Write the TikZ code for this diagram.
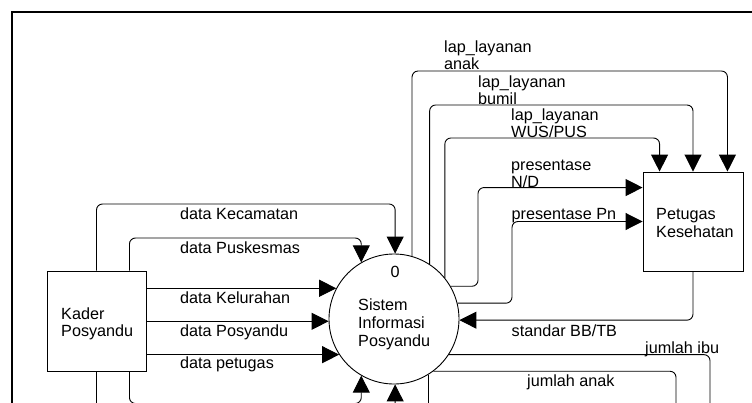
\documentclass[tikz,border=0pt]{standalone}
\usepackage{fontspec}
\setmainfont{Liberation Sans}
\usetikzlibrary{arrows.meta}
\begin{document}
\begin{tikzpicture}[x=1pt,y=-1pt,
  txt/.style={font=\fontsize{16.2}{17}\selectfont, inner sep=0pt, align=left},
  flow/.style={draw, line width=0.9pt, rounded corners=6pt,
    -{Triangle[length=17pt,width=17pt]}},
  wire/.style={draw, line width=0.9pt, rounded corners=6pt},
  entity/.style={draw, line width=0.9pt, rectangle, inner sep=0pt},
  process/.style={draw, line width=0.9pt, circle, inner sep=0pt, minimum size=130pt}]

\useasboundingbox (0,0) rectangle (752,402);
\clip (0,0) rectangle (752,402);

% outer frame
\draw[line width=1.6pt] (11.7,440) |- (800,11.7);

% external entities and the process
\node[entity, minimum width=99pt, minimum height=100pt] (kader) at (96.5,321) {};
\node[txt, anchor=north west] (kaderLbl) at (61,308) {Kader\\Posyandu};
\node[entity, minimum width=100pt, minimum height=99pt] (pet) at (693,221.5) {};
\node[txt, anchor=north west, font=\fontsize{16.2}{18}\selectfont] (petLbl) at (656,208) {Petugas\\Kesehatan};
\node[process] (sys) at (394,319) {};
\node[txt, anchor=base] (sysNo) at (395,277.3) {0};
\node[txt, anchor=north west, font=\fontsize{16.2}{18}\selectfont] (sysLbl) at (358,299) {Sistem\\Informasi\\Posyandu};

% attachment points on the boxes
\coordinate (pA) at ([xshift=-16pt]pet.north east);
\coordinate (pC) at ([xshift=17pt]pet.north west);
\coordinate (pD) at ([yshift=-16pt]pet.north west);
\coordinate (kT) at ([xshift=-17pt]kader.north east);
\coordinate (kB) at ([xshift=-17pt]kader.south east);
\coordinate (ibuEnd) at (710,440);
\coordinate (anakEnd) at (676,440);

% flows from Kader Posyandu
\draw[flow] (kader.north) |- (sys.89 |- 0,204) -- (sys.89);
\draw[flow] (kT) |- (sys.120 |- 0,238) -- (sys.120);
\draw[flow] (kader.east |- sys.152) -- (sys.152);
\draw[flow] (kader.east |- sys.182) -- (sys.182);
\draw[flow] (kader.east |- sys.213) -- (sys.213);
\draw[flow] (kB) |- (sys.-120 |- 0,403.5) -- (sys.-120);
\draw[flow] (kader.south) |- (sys.-89 |- 0,440) -- (sys.-89);

% flows to and from Petugas Kesehatan
\draw[flow] (sys.74) |- (pA |- 0,71) -- (pA);
\draw[flow] (sys.57) |- (pet.north |- 0,105) -- (pet.north);
\draw[flow] (sys.39) |- (pC |- 0,138) -- (pC);
\draw[flow] (sys.30) -| (pD -| 478,0) -- (pD);
\draw[flow] (sys.14) -| (pet.west -| 512,0) -- (pet.west);
\draw[flow] (pet.south) |- (sys.-1);

% outgoing flows leaving downwards
\draw[wire] (sys.-33) -| (ibuEnd);
\draw[wire] (sys.-53) -| (anakEnd);
\draw[wire] (sys.-58) -- (sys.-58 |- 0,440);

% flow labels
\node[txt, anchor=base west] (lKec) at (180,219.5) {data Kecamatan};
\node[txt, anchor=base west] (lPus) at (180,253) {data Puskesmas};
\node[txt, anchor=base west] (lKel) at (180,303) {data Kelurahan};
\node[txt, anchor=base west] (lPos) at (180,336.5) {data Posyandu};
\node[txt, anchor=base west] (lPet) at (180,368) {data petugas};
\node[txt, anchor=south west] (lAnak) at (444,70) {lap\_layanan\\anak};
\node[txt, anchor=south west] (lBumil) at (478,104.5) {lap\_layanan\\bumil};
\node[txt, anchor=south west] (lWus) at (511,137.5) {lap\_layanan\\WUS/PUS};
\node[txt, anchor=south west] (lND) at (511,188) {presentase\\N/D};
\node[txt, anchor=base west] (lPn) at (511.5,219.5) {presentase Pn};
\node[txt, anchor=base west] (lStd) at (511.5,336.5) {standar BB/TB};
\node[txt, anchor=base west] (lIbu) at (645,353.5) {jumlah ibu};
\node[txt, anchor=base west] (lJa) at (527,386) {jumlah anak};
\end{tikzpicture}
\end{document}
